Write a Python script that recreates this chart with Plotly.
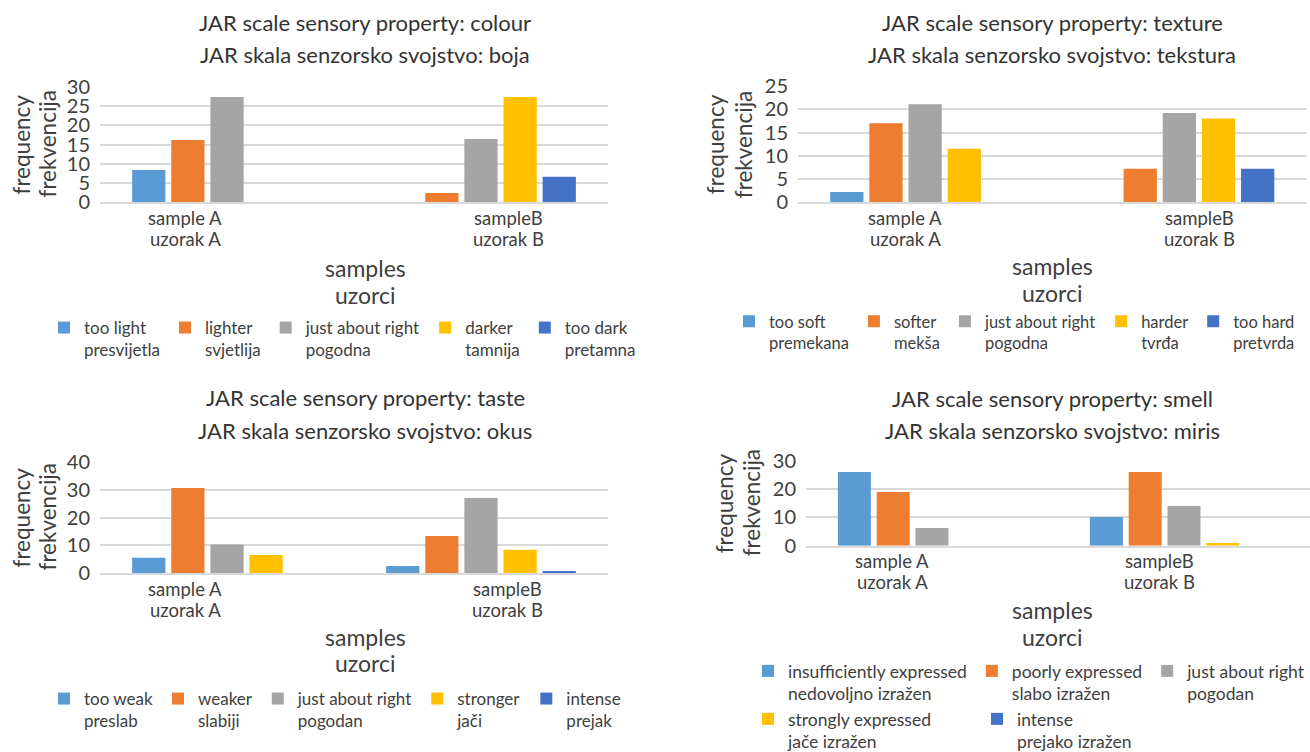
import plotly.graph_objects as go

# ---- data -------------------------------------------------------------
samples = ["sample A", "sampleB"]
sample_lines = [["sample A", "uzorak A"], ["sampleB", "uzorak B"]]

colour_levels = ["too light<br>presvijetla", "lighter<br>svjetlija",
                 "just about right<br>pogodna", "darker<br>tamnija",
                 "too dark<br>pretamna"]
colour_a = [8.4, 16.2, 27.3, 0, 0]
colour_b = [0, 2.4, 16.4, 27.3, 6.6]

texture_levels = ["too soft<br>premekana", "softer<br>mekša",
                  "just about right<br>pogodna", "harder<br>tvrđa",
                  "too hard<br>pretvrda"]
texture_a = [2.2, 17.0, 21.1, 11.5, 0]
texture_b = [0, 7.2, 19.2, 18.0, 7.2]

taste_levels = ["too weak<br>preslab", "weaker<br>slabiji",
                "just about right<br>pogodan", "stronger<br>jači",
                "intense<br>prejak"]
taste_a = [5.6, 30.6, 10.3, 6.6, 0]
taste_b = [2.6, 13.4, 27.0, 8.4, 0.8]

smell_levels = ["insufficiently expressed<br>nedovoljno izražen",
                "poorly expressed<br>slabo izražen",
                "just about right<br>pogodan",
                "strongly expressed<br>jače izražen",
                "intense<br>prejako izražen"]
smell_a = [26.1, 19.0, 6.3, 0, 0]
smell_b = [10.2, 26.1, 14.1, 1.0, 0]

colors = ["#5B9BD5", "#ED7D31", "#A5A5A5", "#FFC000", "#4472C4"]

FONT = "Lato"
TXT = "#404040"
GRID = "#D9D9D9"
W, H = 1310, 752


def px(x):
    return x / W


def py(y):
    return 1 - y / H


panels = [
    dict(levels=colour_levels, a=colour_a, b=colour_b, ymax=30, dtick=5,
         title=["JAR scale sensory property: colour", "JAR skala senzorsko svojstvo: boja"],
         xdom=[px(100), px(608)], ydom=[py(202.3), py(86.7)], cx=px(365),
         ty=[22, 55], sy=[268, 295], shifts=[-42, 27], yt=[-79, -53],
         legends=[("legend", [0, 1, 2, 3, 4], px(44), py(310), None, 17)]),
    dict(levels=texture_levels, a=texture_a, b=texture_b, ymax=25, dtick=5,
         title=["JAR scale sensory property: texture", "JAR skala senzorsko svojstvo: tekstura"],
         xdom=[px(798), px(1306.5)], ydom=[py(202.3), py(86)], cx=px(1052),
         ty=[22, 55], sy=[266, 293], shifts=[-20, 20], yt=[-83, -55],
         legends=[("legend2", [0, 1, 2, 3, 4], px(729), py(304), None, 16.5)]),
    dict(levels=taste_levels, a=taste_a, b=taste_b, ymax=40, dtick=10,
         title=["JAR scale sensory property: taste", "JAR skala senzorsko svojstvo: okus"],
         xdom=[px(100), px(608)], ydom=[py(573.3), py(461.7)], cx=px(365),
         ty=[397, 430], sy=[637, 663], shifts=[-42, 26], yt=[-79, -53],
         legends=[("legend3", [0, 1, 2, 3, 4], px(44), py(681), None, 17)]),
    dict(levels=smell_levels, a=smell_a, b=smell_b, ymax=30, dtick=10,
         title=["JAR scale sensory property: smell", "JAR skala senzorsko svojstvo: miris"],
         xdom=[px(806), 1.0], ydom=[py(545.7), py(461)], cx=px(1052),
         ty=[398, 430], sy=[610, 637], shifts=[-40, -25], yt=[-82, -55],
         legends=[("legend4", [0, 1, 2], px(748), py(653), None, 17.5),
                  ("legend5", [3, 4], px(748), py(701), 184, 17.5)]),
]

fig = go.Figure()
annotations = []
layout = {}

for i, p in enumerate(panels, start=1):
    xa = "x" if i == 1 else f"x{i}"
    ya = "y" if i == 1 else f"y{i}"
    xkey = "xaxis" if i == 1 else f"xaxis{i}"
    ykey = "yaxis" if i == 1 else f"yaxis{i}"

    legend_of = {}
    for lname, idxs, *_ in p["legends"]:
        for k in idxs:
            legend_of[k] = lname

    for k, name in enumerate(p["levels"]):
        fig.add_trace(go.Bar(
            x=samples, y=[p["a"][k], p["b"][k]], name=name,
            marker=dict(color=colors[k], line=dict(width=0)),
            xaxis=xa, yaxis=ya, legend=legend_of[k], hoverinfo="y+name",
        ))

    layout[xkey] = dict(
        domain=p["xdom"], anchor=ya, type="category",
        categoryorder="array", categoryarray=samples,
        showgrid=False, showline=True, linecolor=GRID, linewidth=1.5,
        showticklabels=False, ticks="", fixedrange=True, automargin=False,
    )
    layout[ykey] = dict(
        domain=p["ydom"], anchor=xa, range=[0, p["ymax"]], dtick=p["dtick"],
        showgrid=True, gridcolor=GRID, gridwidth=1.5, zeroline=False,
        showline=False, ticks="", ticklabelstandoff=9, automargin=False,
        tickfont=dict(family=FONT, size=20, color=TXT), fixedrange=True,
    )

    # chart title (two lines)
    for line, yy in zip(p["title"], p["ty"]):
        annotations.append(dict(
            text=line, xref="paper", yref="paper", x=p["cx"], y=py(yy),
            xanchor="center", yanchor="middle", showarrow=False,
            font=dict(family=FONT, size=22, color="#333333"),
        ))
    # x-axis title
    for line, yy in zip(["samples", "uzorci"], p["sy"]):
        annotations.append(dict(
            text=line, xref="paper", yref="paper", x=p["cx"], y=py(yy),
            xanchor="center", yanchor="middle", showarrow=False,
            font=dict(family=FONT, size=23, color=TXT),
        ))
    # y-axis title
    for line, shift in zip(["frequency", "frekvencija"], p["yt"]):
        annotations.append(dict(
            text=line, xref=f"{xa} domain", yref=f"{ya} domain", x=0, y=0.5,
            xshift=shift, xanchor="center", yanchor="middle", textangle=-90,
            showarrow=False, font=dict(family=FONT, size=22.5, color=TXT),
        ))
    # category labels under each group
    for s, lines, sh in zip(samples, sample_lines, p["shifts"]):
        for line, dy in zip(lines, [-15.5, -36.5]):
            annotations.append(dict(
                text=line, xref=xa, yref=f"{ya} domain", x=s, y=0,
                xshift=sh, yshift=dy, xanchor="center", yanchor="middle",
                showarrow=False, font=dict(family=FONT, size=18.5, color=TXT),
            ))

    # legends
    for lname, idxs, lx, ly, ew, fs in p["legends"]:
        leg = dict(
            orientation="h", x=lx, y=ly, xanchor="left", yanchor="top",
            xref="paper", yref="paper", valign="top", traceorder="normal",
            bgcolor="rgba(0,0,0,0)", itemclick=False, itemdoubleclick=False,
            font=dict(family=FONT, size=fs, color=TXT),
        )
        if ew is not None:
            leg["entrywidth"] = ew
            leg["entrywidthmode"] = "pixels"
        layout[lname] = leg

fig.update_layout(
    width=W, height=H,
    margin=dict(l=0, r=0, t=0, b=0, pad=0, autoexpand=False),
    paper_bgcolor="white", plot_bgcolor="white",
    barmode="group", bargap=0.23, bargroupgap=0.15,
    showlegend=True,
    font=dict(family=FONT, color=TXT),
    annotations=annotations,
    **layout,
)

fig.write_html("out.html", config={"displayModeBar": False})
